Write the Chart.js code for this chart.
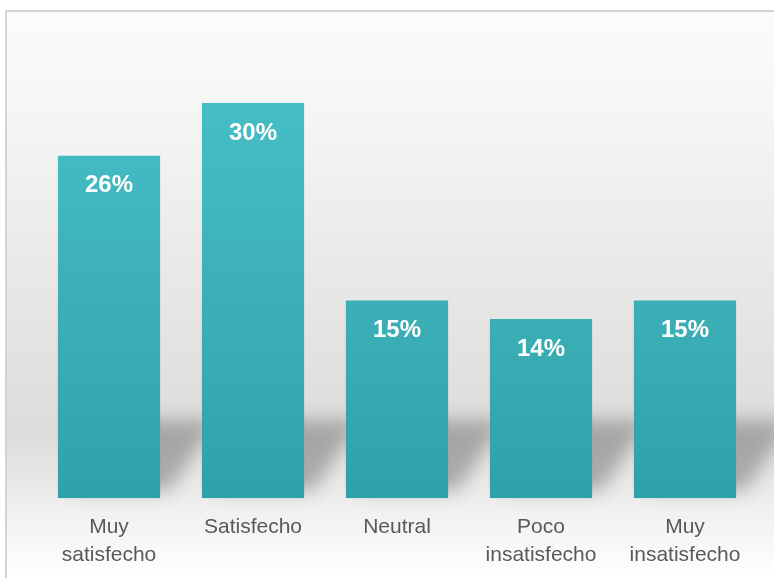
<!DOCTYPE html>
<html>
<head>
<meta charset="utf-8">
<script src="https://cdn.jsdelivr.net/npm/chart.js@4"></script>
<style>
  html, body { margin: 0; padding: 0; background: #fff; }
  #wrap { width: 774px; height: 578px; position: relative; }
</style>
</head>
<body>
<div id="wrap"><canvas id="myChart" width="774" height="578"></canvas></div>
<script>
const categories = [["Muy", "satisfecho"], "Satisfecho", "Neutral", ["Poco", "insatisfecho"], ["Muy", "insatisfecho"]];
const percentages = [26, 30, 15, 13.6, 15];
const valueLabels = ["26%", "30%", "15%", "14%", "15%"];

// fondo degradado + marco
const backgroundPlugin = {
  id: 'fondo',
  beforeDraw(chart) {
    const c = chart.ctx;
    const g = c.createLinearGradient(0, 10, 0, 578);
    g.addColorStop(0, '#fbfbfb');
    g.addColorStop(0.15, '#f7f7f7');
    g.addColorStop(0.45, '#e9e9e9');
    g.addColorStop(0.75, '#dcdcdc');
    g.addColorStop(0.88, '#f0f0f0');
    g.addColorStop(1, '#ffffff');
    c.save();
    c.fillStyle = '#ffffff';
    c.fillRect(0, 0, chart.width, chart.height);
    c.fillStyle = g;
    c.fillRect(6, 11, 768, 567);
    c.strokeStyle = '#d4d4d4';
    c.lineWidth = 2;
    c.strokeRect(6, 11, 770, 570);
    c.restore();
  }
};

// sombras inclinadas detrás de las barras
const shadowPlugin = {
  id: 'sombras',
  beforeDatasetsDraw(chart) {
    const c = chart.ctx;
    const meta = chart.getDatasetMeta(0);
    c.save();
    c.filter = 'blur(9px)';
    c.fillStyle = 'rgba(120,120,120,0.55)';
    meta.data.forEach(bar => {
      const l = bar.x - bar.width / 2, r = bar.x + bar.width / 2, b = bar.base;
      c.beginPath();
      c.moveTo(l + 10, b - 8);
      c.lineTo(r + 10, b - 8);
      c.lineTo(r + 55, b - 78);
      c.lineTo(l + 55, b - 78);
      c.closePath();
      c.fill();
    });
    c.restore();
  }
};

// etiquetas de valor dentro de las barras
const labelPlugin = {
  id: 'etiquetas',
  afterDatasetsDraw(chart) {
    const c = chart.ctx;
    const meta = chart.getDatasetMeta(0);
    c.save();
    c.fillStyle = '#ffffff';
    c.font = 'bold 24px "Liberation Sans", Arial, sans-serif';
    c.textAlign = 'center';
    c.textBaseline = 'middle';
    meta.data.forEach((bar, i) => {
      c.fillText(valueLabels[i], bar.x, bar.y + 30);
    });
    c.restore();
  }
};

const ctx = document.getElementById('myChart').getContext('2d');
const barGradient = ctx.createLinearGradient(0, 100, 0, 497);
barGradient.addColorStop(0, '#46bec6');
barGradient.addColorStop(1, '#31a1a9');

new Chart(ctx, {
  type: 'bar',
  data: {
    labels: categories,
    datasets: [{
      data: percentages,
      backgroundColor: barGradient,
      borderWidth: 0,
      categoryPercentage: 1,
      barPercentage: 0.71
    }]
  },
  options: {
    responsive: false,
    animation: false,
    layout: { padding: { left: 37, right: 17, top: 103, bottom: 2 } },
    plugins: { legend: { display: false }, tooltip: { enabled: false } },
    scales: {
      y: { display: false, min: 0, max: 30 },
      x: {
        grid: { display: false },
        border: { display: false },
        ticks: {
          color: '#595959',
          padding: 7,
          font: { family: '"Liberation Sans", Arial, sans-serif', size: 21, lineHeight: 1.33 }
        }
      }
    }
  },
  plugins: [backgroundPlugin, shadowPlugin, labelPlugin]
});
</script>
</body>
</html>
